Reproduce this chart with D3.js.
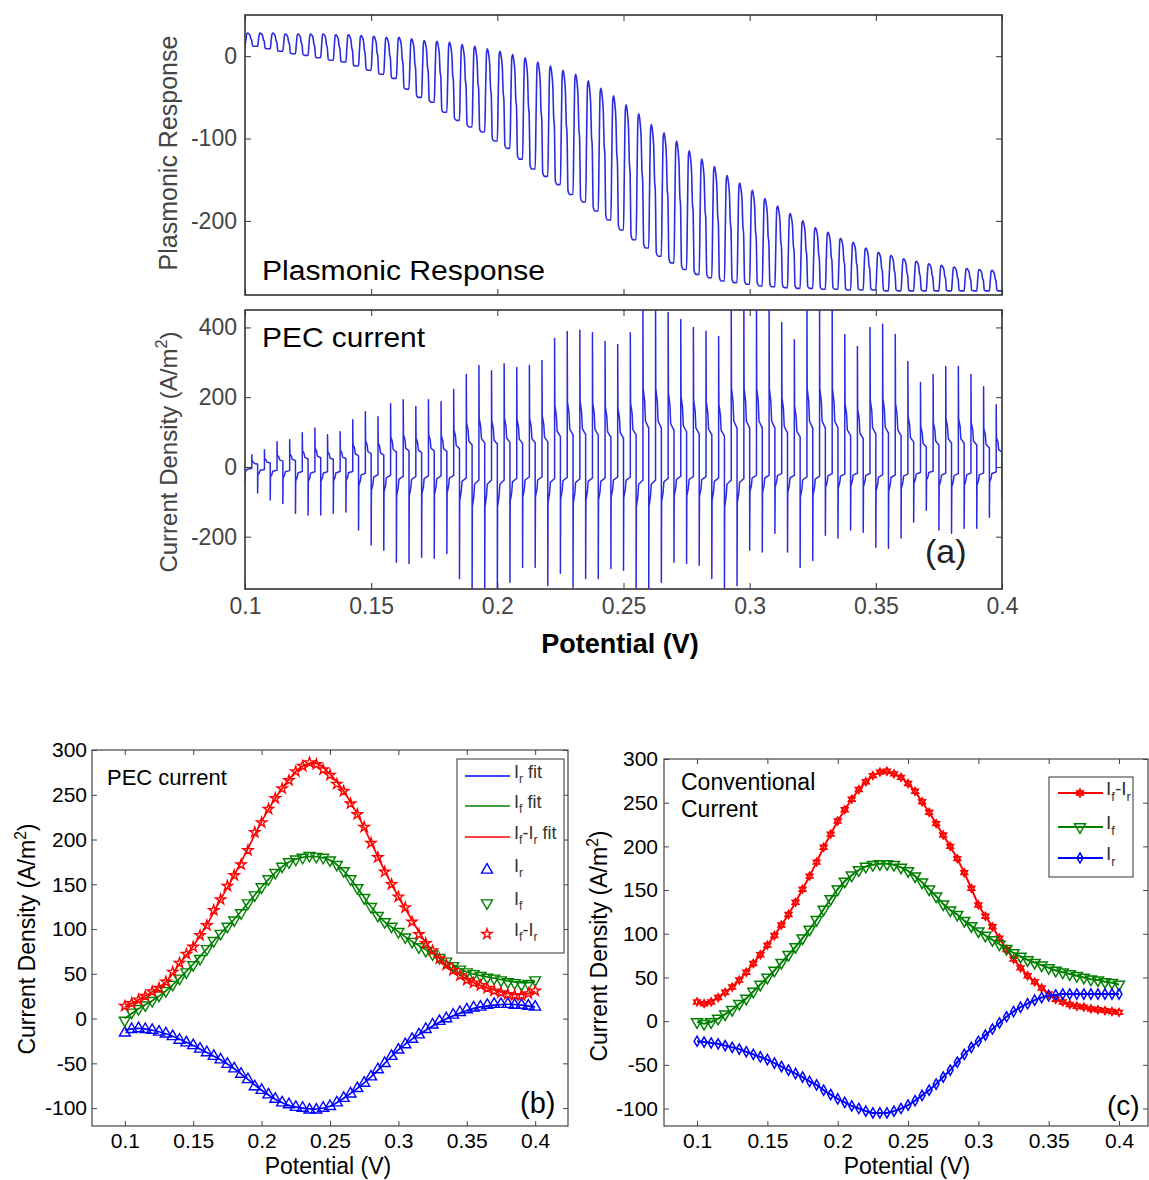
<!DOCTYPE html>
<html>
<head>
<meta charset="utf-8">
<script src="https://cdnjs.cloudflare.com/ajax/libs/d3/7.8.5/d3.min.js"></script>
<style>
body { margin: 0; background: #fff; }
text { font-family: "Liberation Sans", Arial, sans-serif; }
</style>
</head>
<body>
<svg id="fig" width="1149" height="1180"></svg>
<script>
// ---------- data ----------
var potential = [0.100,0.105,0.110,0.115,0.120,0.125,0.130,0.135,0.140,0.145,
  0.150,0.155,0.160,0.165,0.170,0.175,0.180,0.185,0.190,0.195,
  0.200,0.205,0.210,0.215,0.220,0.225,0.230,0.235,0.240,0.245,
  0.250,0.255,0.260,0.265,0.270,0.275,0.280,0.285,0.290,0.295,
  0.300,0.305,0.310,0.315,0.320,0.325,0.330,0.335,0.340,0.345,
  0.350,0.355,0.360,0.365,0.370,0.375,0.380,0.385,0.390,0.395,0.400];
var fitPotential = [0.10,0.11,0.12,0.13,0.14,0.15,0.16,0.17,0.18,0.19,0.20,0.21,0.22,0.23,0.24,
  0.25,0.26,0.27,0.28,0.29,0.30,0.31,0.32,0.33,0.34,0.35,0.36,0.37,0.38,0.39,0.40];

// (a) plasmonic response: upper / lower level of each modulation cycle
var plasHigh = [28,28,28,27,27,27,27,26,26,25,24,23,23,21,19,18,17,14,12,9,
  6,2,-2,-7,-12,-17,-22,-30,-39,-48,-59,-70,-83,-93,-103,-115,-125,-134,-145,-154,
  -163,-173,-182,-191,-200,-208,-214,-221,-226,-233,-238,-242,-246,-249,-252,-254,-256,-258,-259,-260];
var plasLow = [12,9,6,3,1,-2,-5,-7,-12,-17,-22,-27,-40,-50,-56,-68,-78,-86,-92,-103,
  -112,-125,-137,-146,-156,-168,-177,-188,-199,-211,-223,-233,-243,-251,-259,-265,-269,-273,-275,-277,
  -279,-280,-281,-282,-282,-283,-283,-284,-284,-284,-285,-285,-285,-285,-285,-285,-285,-285,-285,-285];

// (a) PEC current: positive (light on) and negative (light off) spike heights
var pecPos = [35,49,72,78,98,112,92,101,135,158,144,181,193,173,193,187,222,265,291,276,
  296,285,291,305,368,388,392,385,360,351,385,470,470,443,423,400,389,374,470,470,
  470,470,414,365,470,470,470,380,345,400,409,380,302,242,265,288,288,265,230,178];
var pecNeg = [-43,-75,-95,-105,-133,-138,-138,-133,-129,-181,-224,-239,-273,-277,-259,-262,-248,-320,-380,-380,
  -380,-331,-288,-288,-340,-305,-345,-320,-320,-291,-296,-380,-380,-331,-273,-277,-282,-320,-380,-340,
  -239,-244,-190,-244,-288,-268,-196,-204,-181,-187,-230,-233,-204,-158,-124,-181,-190,-176,-176,-144,-95];

// (b) PEC current, measured points
var bDiff = [14,17,21,25,30,34,41,52,62,72,80,93,104,121,133,148,160,172,188,208,
  219,234,246,257,266,276,282,286,284,278,272,262,254,240,228,214,196,180,164,150,
  136,124,108,94,84,76,67,60,54,48,43,40,37,34,31,29,27,26,26,28,31];
var bIf = [-2,7,11,15,20,26,31,38,45,52,60,67,78,87,95,103,110,118,129,138,
  147,156,163,170,175,178,180,182,181,180,177,172,165,156,146,135,125,115,108,103,
  97,91,86,80,76,72,68,64,59,55,52,50,48,46,45,43,41,40,38,39,43];
var bIr = [-16,-12,-11,-12,-13,-15,-17,-20,-24,-27,-30,-34,-38,-42,-46,-51,-56,-62,-68,-76,
  -80,-85,-90,-94,-96,-99,-100,-102,-102,-100,-98,-94,-89,-84,-78,-72,-65,-57,-50,-42,
  -35,-29,-23,-18,-12,-7,-3,0,4,7,10,12,13,15,16,16,16,15,15,14,13];
// (b) fits
var bDiffFit = [13,21,30,41,61,81,105,133,160,190,220,246,267,282,285,273,254,228,197,165,136,110,85,67,54,44,37,32,28,27,30];
var bIfFit = [0,11,20,31,45,61,78,95,111,129,147,163,175,180,181,177,165,146,125,108,97,86,77,68,60,52,48,45,42,40,41];
var bIrFit = [-13,-11,-13,-17,-23,-30,-38,-46,-56,-68,-80,-90,-97,-100,-101,-98,-89,-78,-65,-50,-35,-23,-13,-4,3,9,13,15,16,15,13];

// (c) conventional current
var cDiff = [22,20,22,27,33,39,47,56,66,76,87,98,110,122,136,151,166,182,199,214,
  229,242,254,265,274,281,285,286,283,279,272,263,251,239,226,213,200,186,170,152,
  133,120,108,95,82,71,61,52,45,38,31,25,22,19,17,16,14,13,12,11,10];
var cIf = [-1,-3,-1,3,8,13,20,26,34,42,50,58,67,76,85,95,105,116,128,140,
  151,160,167,173,177,179,180,180,179,176,172,166,159,151,143,134,127,122,115,109,
  103,98,93,88,83,78,74,70,67,64,61,58,56,54,52,50,48,47,45,44,42];
var cIr = [-23,-24,-25,-26,-28,-30,-32,-35,-38,-41,-44,-48,-52,-56,-60,-64,-69,-73,-79,-84,
  -89,-93,-97,-100,-103,-105,-105,-105,-103,-100,-96,-91,-85,-79,-72,-64,-56,-47,-38,-30,
  -23,-16,-9,-2,5,11,16,20,24,27,29,30,31,31,31,31,31,31,31,31,31];

// ticks
var xTicks = [0.1,0.15,0.2,0.25,0.3,0.35,0.4];
var xTickLabels = ["0.1","0.15","0.2","0.25","0.3","0.35","0.4"];
var yTicksPlas = [-200,-100,0];
var yTickLabelsPlas = ["-200","-100","0"];
var yTicksPec = [-200,0,200,400];
var yTickLabelsPec = ["-200","0","200","400"];
var yTicksBC = [-100,-50,0,50,100,150,200,250,300];
var yTickLabelsBC = ["-100","-50","0","50","100","150","200","250","300"];

// ---------- helpers ----------
var svg = d3.select("#fig");
var BLUE = "#0000ff", GREEN = "#008000", RED = "#ff0000", WAVE = "#2b2be0";
var clipId = 0;

function frame(x, y, o) {
  var g = svg.append("g");
  var x0 = x.range()[0], x1 = x.range()[1], y0 = y.range()[0], y1 = y.range()[1];
  function style(a, showText) {
    a.select(".domain").remove();
    a.attr("font-size", o.fs).attr("font-family", "Liberation Sans, Arial, sans-serif");
    a.selectAll("line").attr("stroke", o.color).attr("stroke-width", 1);
    a.selectAll("text").attr("fill", o.textColor);
    if (!showText) a.selectAll("text").remove();
  }
  g.append("g").attr("transform", "translate(" + x0 + ",0)")
    .call(d3.axisLeft(y).tickValues(o.yTicks).tickFormat(function (d, i) { return o.yLabels[i]; })
      .tickSizeInner(-o.tl).tickSizeOuter(0).tickPadding(o.ypad))
    .call(function (a) { style(a, true); });
  g.append("g").attr("transform", "translate(" + x1 + ",0)")
    .call(d3.axisRight(y).tickValues(o.yTicks).tickSizeInner(-o.tl).tickSizeOuter(0))
    .call(function (a) { style(a, false); });
  g.append("g").attr("transform", "translate(0," + y0 + ")")
    .call(d3.axisBottom(x).tickValues(xTicks).tickFormat(function (d, i) { return xTickLabels[i]; })
      .tickSizeInner(-o.tl).tickSizeOuter(0).tickPadding(o.xpad))
    .call(function (a) { style(a, o.showX); });
  g.append("g").attr("transform", "translate(0," + y1 + ")")
    .call(d3.axisTop(x).tickValues(xTicks).tickSizeInner(-o.tl).tickSizeOuter(0))
    .call(function (a) { style(a, false); });
  g.append("rect").attr("x", x0).attr("y", y1).attr("width", x1 - x0).attr("height", y0 - y1)
    .attr("fill", "none").attr("stroke", o.color).attr("stroke-width", o.sw);
  return g;
}

function plotArea(x, y) {
  var id = "clip" + (clipId++);
  svg.append("clipPath").attr("id", id).append("rect")
    .attr("x", x.range()[0]).attr("y", y.range()[1])
    .attr("width", x.range()[1] - x.range()[0]).attr("height", y.range()[0] - y.range()[1]);
  return svg.append("g").attr("clip-path", "url(#" + id + ")");
}

function richText(g, xPos, yPos, parts, fs, fill, anchor) {
  var t = g.append("text").attr("x", xPos).attr("y", yPos).attr("font-size", fs)
    .attr("fill", fill || "#000").attr("text-anchor", anchor || "start");
  var shift = 0;
  parts.forEach(function (p) {
    var s = t.append("tspan").text(p[0]);
    var want = p[1] === "sub" ? fs * 0.3 : (p[1] === "sup" ? -fs * 0.4 : 0);
    if (want !== shift) { s.attr("dy", want - shift); shift = want; }
    if (p[1]) s.attr("font-size", fs * 0.68);
  });
  return t;
}

var hexagram = {
  draw: function (ctx, size) {
    var r = Math.sqrt(size) * 0.62;
    for (var t = 0; t < 2; t++) {
      for (var i = 0; i < 3; i++) {
        var a = (t * 60 + i * 120 - 90) * Math.PI / 180;
        var px = r * Math.cos(a), py = r * Math.sin(a);
        if (i === 0) ctx.moveTo(px, py); else ctx.lineTo(px, py);
      }
      ctx.closePath();
    }
  }
};
var symbols = {
  triUp: d3.symbol(d3.symbolTriangle, 52)(),
  triDown: d3.symbol(d3.symbolTriangle, 52)(),
  star: d3.symbol(d3.symbolStar, 32)(),
  diamond: d3.symbol(d3.symbolDiamond, 30)(),
  hex: d3.symbol(hexagram, 40)()
};
function marker(g, kind, cx, cy, color, sw) {
  g.append("path").attr("d", symbols[kind])
    .attr("transform", "translate(" + cx + "," + cy + ")" + (kind === "triDown" ? " rotate(180)" : ""))
    .attr("fill", "none").attr("stroke", color).attr("stroke-width", sw || 1.4);
}

// ---------- (a) ----------
var xA = d3.scaleLinear().domain([0.1, 0.4]).range([245, 1002]);
var yPlas = d3.scaleLinear().domain([-290, 50]).range([295, 15]);
var yPec = d3.scaleLinear().domain([-350, 450]).range([589, 310]);

var T = 0.005;
var plasPts = [];
plasHigh.forEach(function (hi, k) {
  var v0 = potential[k], lo = plasLow[k];
  var prev = k > 0 ? plasLow[k - 1] : lo, amp = hi - lo;
  plasPts.push([v0, prev], [v0 + 0.07 * T, (prev + hi) / 2], [v0 + 0.15 * T, hi - 0.03 * amp], [v0 + 0.22 * T, hi],
    [v0 + 0.3 * T, hi - 0.05 * amp], [v0 + 0.4 * T, hi - 0.18 * amp], [v0 + 0.46 * T, hi - 0.42 * amp],
    [v0 + 0.52 * T, hi - 0.5 * amp], [v0 + 0.6 * T, lo + 0.03 * amp], [v0 + 0.75 * T, lo], [v0 + T, lo]);
});
var pecPts = [];
pecPos.forEach(function (p, k) {
  var vn = potential[k], n = pecNeg[k], vp = vn + 0.0027, vnext = potential[k + 1];
  if (k > 0) pecPts.push([vn, 0.24 * pecPos[k - 1]]); else pecPts.push([vn, -10]);
  pecPts.push([vn, n], [vn + 0.0001, 0.3 * n], [vn + 0.0007, 0.22 * n], [vn + 0.001, 0.13 * n], [vp - 0.0001, 0.1 * n],
    [vp, 0.1 * n], [vp, p], [vp + 0.0001, 0.48 * p], [vp + 0.0007, 0.4 * p], [vp + 0.001, 0.28 * p], [vnext - 0.0001, 0.24 * p]);
});
pecPts.push([0.4, pecNeg[60]]);

frame(xA, yPlas, {yTicks: yTicksPlas, yLabels: yTickLabelsPlas, fs: 23, tl: 6, ypad: 8, xpad: 9,
  showX: false, color: "#333", textColor: "#444", sw: 1.6});
plotArea(xA, yPlas).append("path").datum(plasPts)
  .attr("d", d3.line().curve(d3.curveMonotoneX).x(function (d) { return xA(d[0]); }).y(function (d) { return yPlas(d[1]); }))
  .attr("fill", "none").attr("stroke", WAVE).attr("stroke-width", 1.6).attr("stroke-linejoin", "round");
svg.append("text").attr("x", 262).attr("y", 280).attr("font-size", 27).attr("textLength", 283)
  .attr("lengthAdjust", "spacingAndGlyphs").text("Plasmonic Response");
svg.append("text").attr("transform", "translate(177,153) rotate(-90)").attr("text-anchor", "middle")
  .attr("font-size", 25).attr("fill", "#444").text("Plasmonic Response");

frame(xA, yPec, {yTicks: yTicksPec, yLabels: yTickLabelsPec, fs: 23, tl: 6, ypad: 8, xpad: 9,
  showX: true, color: "#333", textColor: "#444", sw: 1.6});
plotArea(xA, yPec).append("path").datum(pecPts)
  .attr("d", d3.line().x(function (d) { return xA(d[0]); }).y(function (d) { return yPec(d[1]); }))
  .attr("fill", "none").attr("stroke", WAVE).attr("stroke-width", 1.5).attr("stroke-linejoin", "round");
svg.append("text").attr("x", 262).attr("y", 347).attr("font-size", 28).attr("textLength", 163)
  .attr("lengthAdjust", "spacingAndGlyphs").text("PEC current");
svg.append("text").attr("x", 925).attr("y", 563).attr("font-size", 34).attr("fill", "#222").text("(a)");
var ta = svg.append("g").attr("transform", "translate(177,452) rotate(-90)");
richText(ta, 0, 0, [["Current Density (A/m", ""], ["2", "sup"], [")", ""]], 24, "#444", "middle");
svg.append("text").attr("x", 620).attr("y", 653).attr("text-anchor", "middle").attr("font-size", 27)
  .attr("font-weight", "bold").text("Potential (V)");

// ---------- (b) ----------
var xB = d3.scaleLinear().domain([0.076, 0.424]).range([92, 568]);
var yB = d3.scaleLinear().domain([-120, 300]).range([1126, 750]);
frame(xB, yB, {yTicks: yTicksBC, yLabels: yTickLabelsBC, fs: 21, tl: 5, ypad: 5, xpad: 7,
  showX: true, color: "#444", textColor: "#000", sw: 1.2});
var pb = plotArea(xB, yB);
var fitLine = d3.line().curve(d3.curveCatmullRom).x(function (d, i) { return xB(fitPotential[i]); }).y(function (d) { return yB(d); });
[[bIrFit, BLUE], [bIfFit, GREEN], [bDiffFit, RED]].forEach(function (s) {
  pb.append("path").datum(s[0]).attr("d", fitLine).attr("fill", "none").attr("stroke", s[1]).attr("stroke-width", 1.7);
});
bIr.forEach(function (v, i) { marker(pb, "triUp", xB(potential[i]), yB(v), BLUE); });
bIf.forEach(function (v, i) { marker(pb, "triDown", xB(potential[i]), yB(v), GREEN); });
bDiff.forEach(function (v, i) { marker(pb, "star", xB(potential[i]), yB(v), RED); });
svg.append("text").attr("x", 107).attr("y", 785).attr("font-size", 22).text("PEC current");
svg.append("text").attr("x", 520).attr("y", 1113).attr("font-size", 29).text("(b)");
svg.append("text").attr("x", 328).attr("y", 1174).attr("text-anchor", "middle").attr("font-size", 23).text("Potential (V)");
var tb = svg.append("g").attr("transform", "translate(35,939) rotate(-90)");
richText(tb, 0, 0, [["Current Density (A/m", ""], ["2", "sup"], [")", ""]], 23, "#000", "middle");

// legend (b)
var lb = svg.append("g");
lb.append("rect").attr("x", 457).attr("y", 759).attr("width", 107).attr("height", 194)
  .attr("fill", "#fff").attr("stroke", "#333").attr("stroke-width", 1);
var legB = [
  {y: 776, c: BLUE, line: true, t: [["I", ""], ["r", "sub"], [" fit", ""]]},
  {y: 806, c: GREEN, line: true, t: [["I", ""], ["f", "sub"], [" fit", ""]]},
  {y: 837, c: RED, line: true, t: [["I", ""], ["f", "sub"], ["-I", ""], ["r", "sub"], [" fit", ""]]},
  {y: 870, c: BLUE, m: "triUp", t: [["I", ""], ["r", "sub"]]},
  {y: 903, c: GREEN, m: "triDown", t: [["I", ""], ["f", "sub"]]},
  {y: 934, c: RED, m: "star", t: [["I", ""], ["f", "sub"], ["-I", ""], ["r", "sub"]]}
];
legB.forEach(function (e) {
  if (e.line) lb.append("line").attr("x1", 465).attr("x2", 510).attr("y1", e.y).attr("y2", e.y)
    .attr("stroke", e.c).attr("stroke-width", 1.7);
  else marker(lb, e.m, 487, e.y, e.c);
  richText(lb, 514, e.y + 2, e.t, 18, "#333");
});

// ---------- (c) ----------
var xC = d3.scaleLinear().domain([0.0765, 0.4206]).range([664, 1148]);
var yC = d3.scaleLinear().domain([-120, 300]).range([1126, 759]);
frame(xC, yC, {yTicks: yTicksBC, yLabels: yTickLabelsBC, fs: 21, tl: 5, ypad: 6, xpad: 7,
  showX: true, color: "#444", textColor: "#000", sw: 1.2});
var pc = plotArea(xC, yC);
var lineC = d3.line().x(function (d, i) { return xC(potential[i]); }).y(function (d) { return yC(d); });
[[cDiff, RED, "hex"], [cIf, GREEN, "triDown"], [cIr, BLUE, "diamond"]].forEach(function (s) {
  pc.append("path").datum(s[0]).attr("d", lineC).attr("fill", "none").attr("stroke", s[1]).attr("stroke-width", 2);
  s[0].forEach(function (v, i) { marker(pc, s[2], xC(potential[i]), yC(v), s[1], 1.5); });
});
svg.append("text").attr("x", 681).attr("y", 790).attr("font-size", 23).text("Conventional");
svg.append("text").attr("x", 681).attr("y", 817).attr("font-size", 23).text("Current");
svg.append("text").attr("x", 1107).attr("y", 1115).attr("font-size", 28).text("(c)");
svg.append("text").attr("x", 907).attr("y", 1174).attr("text-anchor", "middle").attr("font-size", 23).text("Potential (V)");
var tc = svg.append("g").attr("transform", "translate(607,946) rotate(-90)");
richText(tc, 0, 0, [["Current Density (A/m", ""], ["2", "sup"], [")", ""]], 23, "#000", "middle");

// legend (c)
var lc = svg.append("g");
lc.append("rect").attr("x", 1049).attr("y", 777).attr("width", 84).attr("height", 100)
  .attr("fill", "#fff").attr("stroke", "#333").attr("stroke-width", 1);
[
  {y: 793, c: RED, m: "hex", t: [["I", ""], ["f", "sub"], ["-I", ""], ["r", "sub"]]},
  {y: 827, c: GREEN, m: "triDown", t: [["I", ""], ["f", "sub"]]},
  {y: 858, c: BLUE, m: "diamond", t: [["I", ""], ["r", "sub"]]}
].forEach(function (e) {
  lc.append("line").attr("x1", 1058).attr("x2", 1103).attr("y1", e.y).attr("y2", e.y)
    .attr("stroke", e.c).attr("stroke-width", 2);
  marker(lc, e.m, 1080, e.y, e.c, 1.5);
  richText(lc, 1106, e.y + 2, e.t, 19, "#333");
});
</script>
</body>
</html>
